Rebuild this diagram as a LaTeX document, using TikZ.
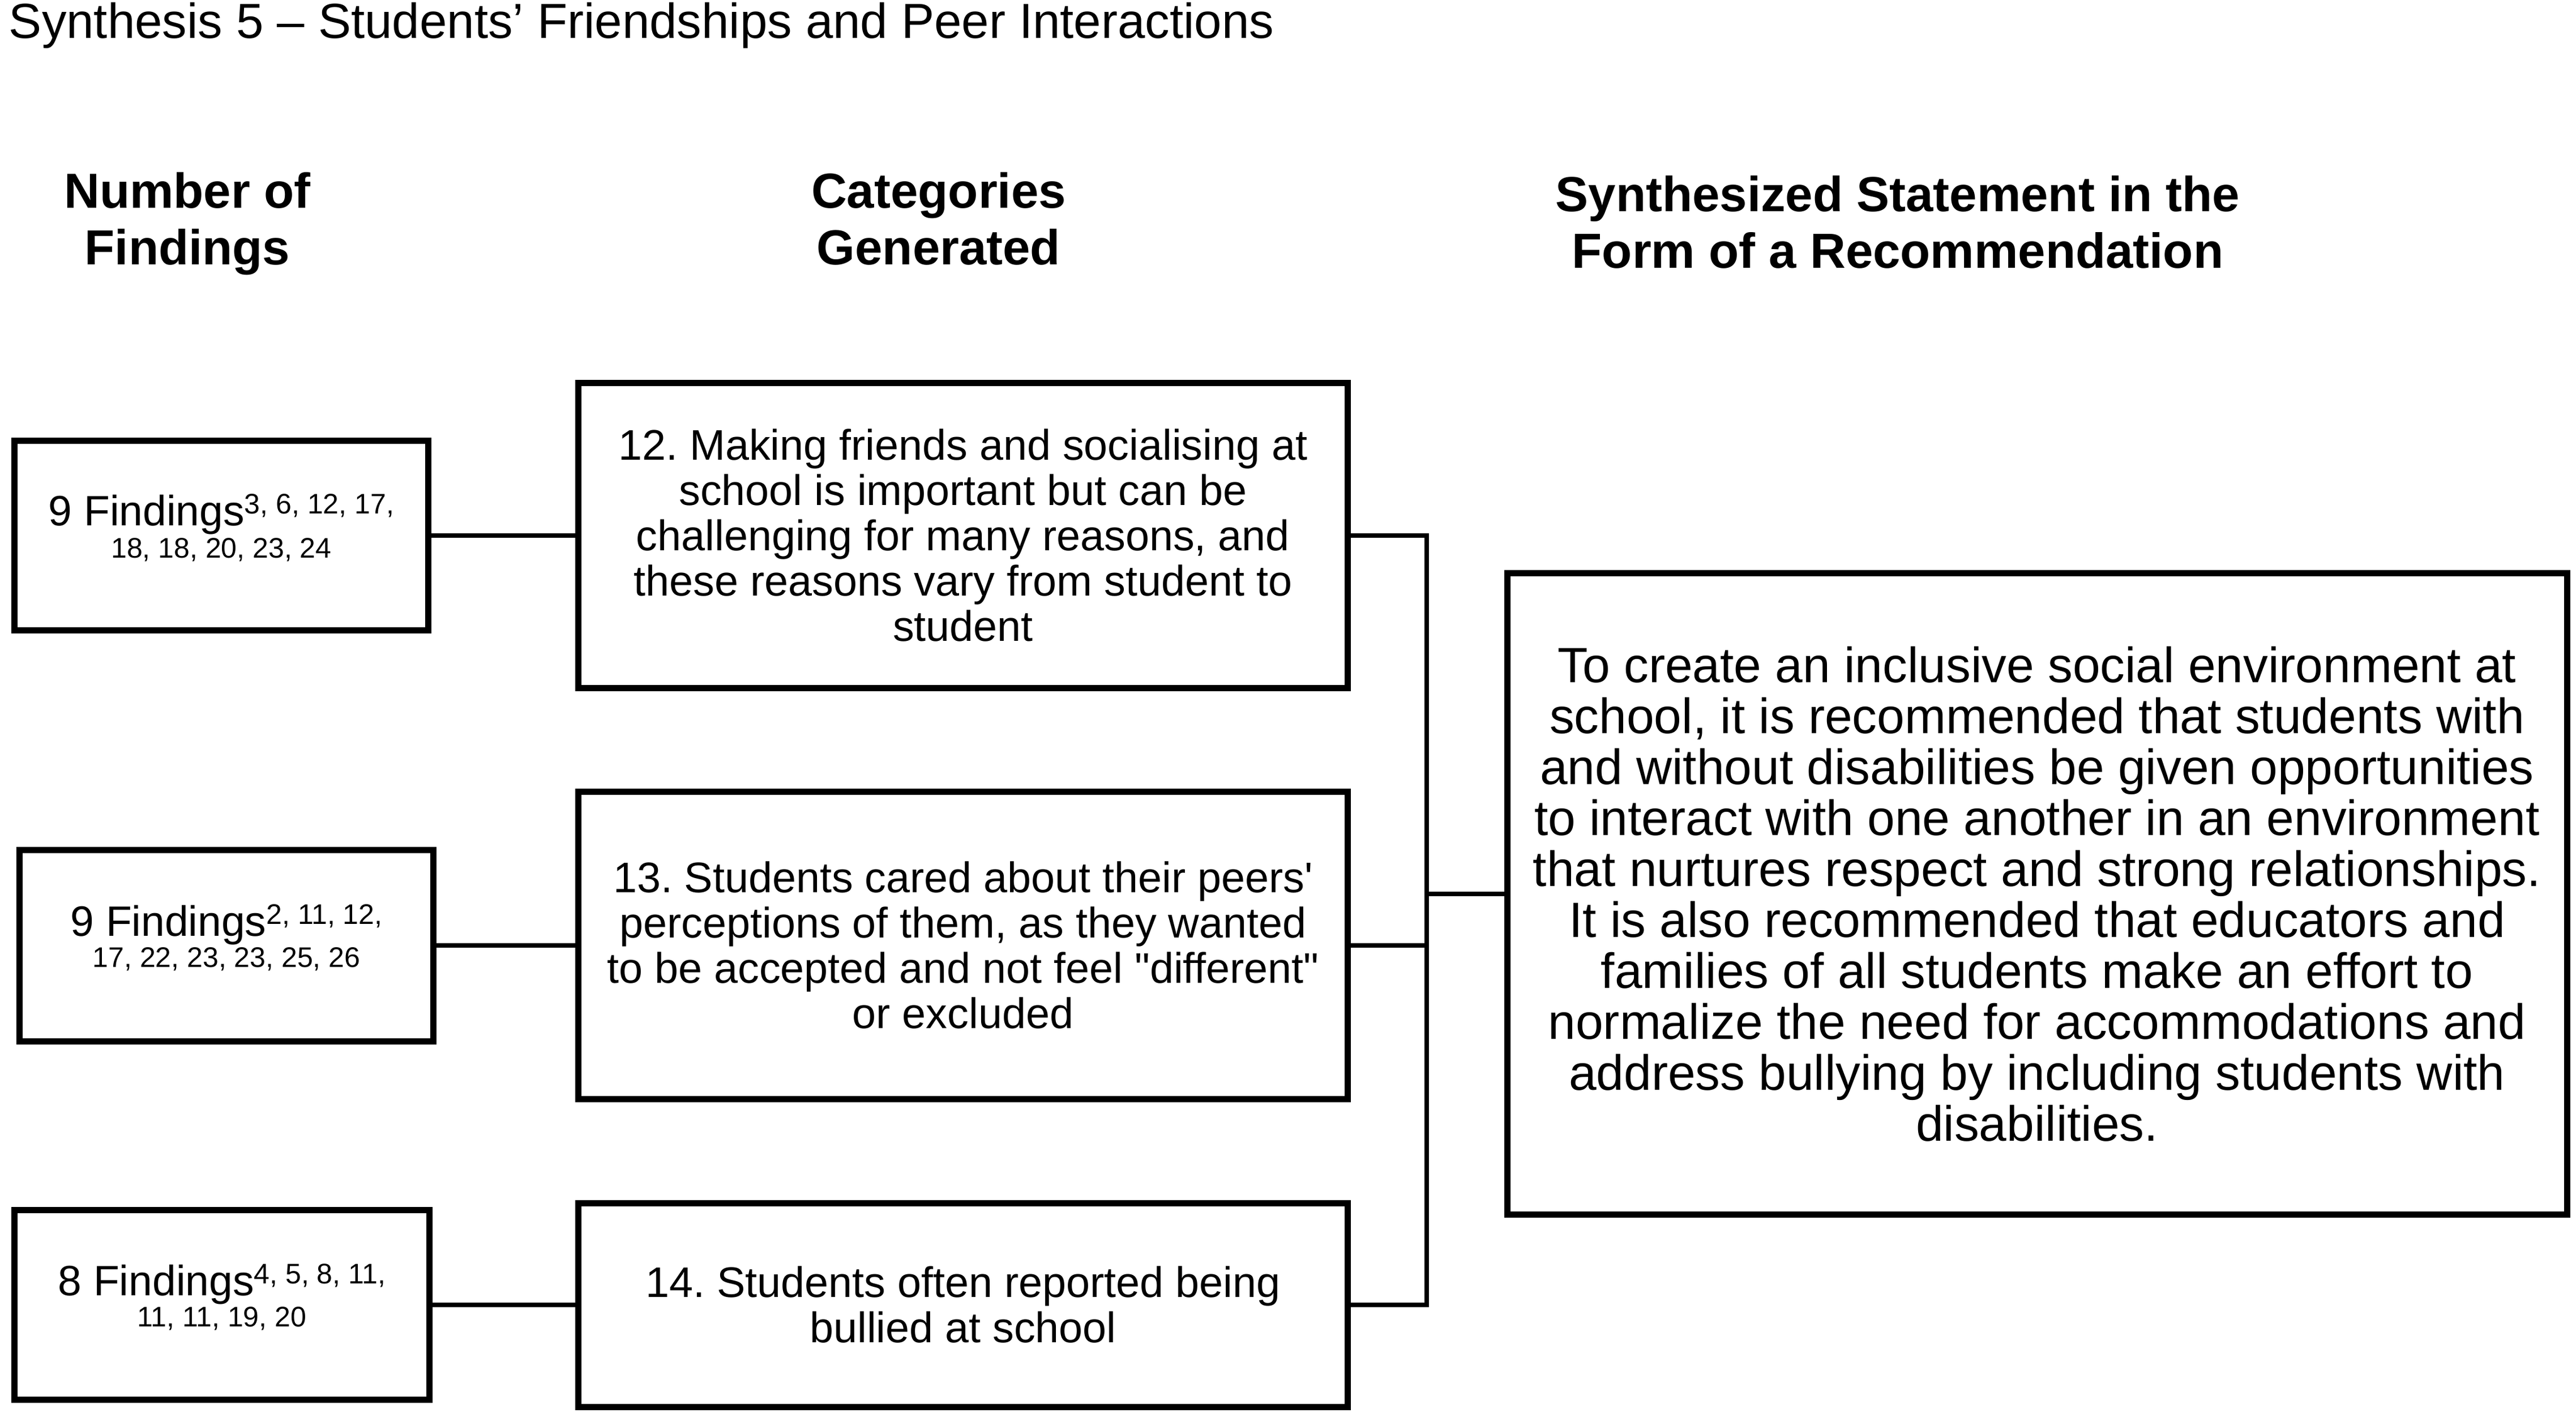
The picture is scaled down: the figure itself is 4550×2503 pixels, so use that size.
\documentclass[tikz,border=0pt]{standalone}
\usepackage{fontspec}
\setmainfont{Liberation Sans}
\newfontfamily\qfont{Liberation Sans}[Ligatures=TeXOff]
\newcommand{\supx}[1]{\raisebox{4.2pt}{\fontsize{10}{11}\selectfont #1}}
\newcommand{\sq}{{\qfont\symbol{39}}}
\newcommand{\dq}{{\qfont\symbol{34}}}
\frenchspacing
\begin{document}
\begin{tikzpicture}[x=0.2pt,y=-0.2pt,
  box/.style={draw=black,line width=2.2pt,inner sep=0pt,align=center},
  conn/.style={draw=black,line width=1.6pt,line join=miter},
  ctext/.style={font=\fontsize{15.1}{16}\selectfont},
  rtext/.style={font=\fontsize{17.5}{18}\selectfont},
  head/.style={font=\fontsize{17.4}{19.8}\selectfont\bfseries,anchor=base,inner sep=0pt},
  fmain/.style={font=\fontsize{15}{16}\selectfont,anchor=base,inner sep=0pt},
  fsub/.style={font=\fontsize{10}{11}\selectfont,anchor=base,inner sep=0pt}]
\useasboundingbox (0,0) rectangle (4550,2503);

% title
\node[anchor=base west,inner sep=0pt,font=\fontsize{17.4}{20}\selectfont] (title) at (15,68)
  {Synthesis 5 – Students’ Friendships and Peer Interactions};

% column headers
\node[head] (h1a) at (331,368) {Number of};
\node[head] (h1b) at (331,468) {Findings};
\node[head] (h2a) at (1658,368) {Categories};
\node[head] (h2b) at (1658,468) {Generated};
\node[head] (h3a) at (3352,374) {Synthesized Statement in the};
\node[head] (h3b) at (3352,474) {Form of a Recommendation};

% findings boxes
\node[box,minimum width=146pt,minimum height=66.8pt] (f1) at (391,946) {};
\node[box,minimum width=146.2pt,minimum height=67.6pt] (f2) at (400,1670) {};
\node[box,minimum width=146.4pt,minimum height=67pt] (f3) at (392,2305) {};

\node[fmain] (f1a) at (391,929) {9 Findings\supx{3, 6, 12, 17,}};
\node[fsub]  (f1b) at (391,985) {18, 18, 20, 23, 24};
\node[fmain] (f2a) at (400,1653) {9 Findings\supx{2, 11, 12,}};
\node[fsub]  (f2b) at (400,1708) {17, 22, 23, 23, 25, 26};
\node[fmain] (f3a) at (392,2288) {8 Findings\supx{4, 5, 8, 11,}};
\node[fsub]  (f3b) at (392,2343) {11, 11, 19, 20};

% category boxes
\node[box,ctext,minimum width=271.6pt,minimum height=107.8pt] (c1) at (1701,946)
  {12. Making friends and socialising at\\school is important but can be\\challenging for many reasons, and\\these reasons vary from student to\\student};
\node[box,ctext,minimum width=271.6pt,minimum height=108.6pt] (c2) at (1701,1670)
  {13. Students cared about their peers\sq\\perceptions of them, as they wanted\\to be accepted and not feel \dq different\dq\\or excluded};
\node[box,ctext,minimum width=271.6pt,minimum height=72pt] (c3) at (1701,2305)
  {14. Students often reported being\\bullied at school};

% recommendation box
\node[box,rtext,minimum width=374.4pt,minimum height=226.4pt] (r) at (3598,1579)
  {To create an inclusive social environment at\\school, it is recommended that students with\\and without disabilities be given opportunities\\to interact with one another in an environment\\that nurtures respect and strong relationships.\\It is also recommended that educators and\\families of all students make an effort to\\normalize the need for accommodations and\\address bullying by including students with\\disabilities.};

% connectors
\coordinate (jtop) at (2520,946);
\coordinate (jbot) at (2520,2305);
\draw[conn] (f1.east) -- (c1.west);
\draw[conn] (f2.east) -- (c2.west);
\draw[conn] (f3.east) -- (c3.west);
\draw[conn] (c1.east) -- (jtop) -- (jbot) -- (c3.east);
\draw[conn] (c2.east) -- (c2.east -| jtop);
\draw[conn] (r.west -| jtop) -- (r.west);
\end{tikzpicture}
\end{document}
